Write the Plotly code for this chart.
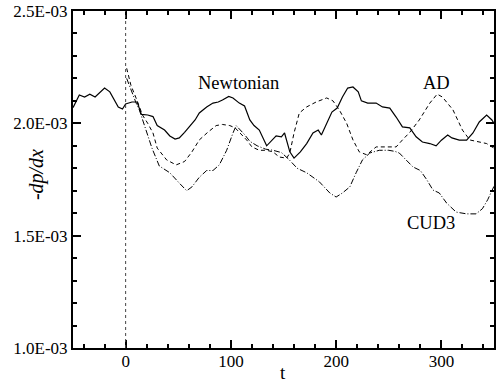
import plotly.graph_objects as go

# ---- data (y in units of 1E-03) ----
t_newt = [-50, -44, -39, -34, -29, -25, -20, -15, -10, -7, -3, 0, 6, 11, 15, 21, 26, 30, 37, 42, 47, 51, 56, 61,
          66, 70, 77, 83, 88, 92, 98, 102, 108, 113, 118, 122, 127, 134, 139, 143, 148, 151, 156, 160, 166, 172,
          178, 183, 186, 191, 196, 201, 206, 211, 216, 221, 224, 230, 238, 244, 251, 257, 263, 270, 276, 282,
          289, 295, 300, 306, 310, 317, 324, 330, 336, 343, 348, 350]
y_newt = [2.07, 2.126, 2.117, 2.13, 2.117, 2.135, 2.157, 2.14, 2.10, 2.073, 2.064, 2.086, 2.095, 2.095, 2.04,
          2.037, 2.03, 1.99, 1.97, 1.944, 1.93, 1.935, 1.96, 1.99, 2.015, 2.046, 2.073, 2.09, 2.095, 2.104, 2.12,
          2.113, 2.09, 2.077, 2.015, 1.99, 1.97, 1.90, 1.925, 1.944, 1.94, 1.957, 1.873, 1.845, 1.873, 1.91,
          1.957, 1.97, 1.948, 2.0, 2.05, 2.068, 2.117, 2.157, 2.162, 2.14, 2.10, 2.09, 2.09, 2.073, 2.068, 2.028,
          1.984, 1.98, 1.94, 1.917, 1.91, 1.90, 1.925, 1.948, 1.935, 1.925, 1.925, 1.957, 2.006, 2.037, 2.015, 2.0]

t_ad = [1, 5, 11, 16, 21, 26, 30, 39, 48, 56, 63, 70, 78, 86, 92, 99, 104, 110, 115, 120, 127, 134, 140, 146,
        153, 156, 160, 165, 172, 181, 191, 197, 203, 210, 216, 222, 229, 238, 248, 257, 263, 270, 279, 289, 296,
        301, 311, 320, 327, 336, 343, 348, 350]
y_ad = [2.245, 2.17, 2.10, 2.037, 2.0, 1.957, 1.89, 1.837, 1.815, 1.83, 1.873, 1.926, 1.96, 1.99, 1.995, 1.99,
        1.98, 1.95, 1.926, 1.895, 1.88, 1.88, 1.873, 1.85, 1.845, 1.868, 1.957, 2.046, 2.073, 2.095, 2.113, 2.10,
        2.06, 2.0, 1.926, 1.873, 1.86, 1.895, 1.895, 1.895, 1.926, 1.96, 2.015, 2.09, 2.13, 2.117, 2.06, 1.97,
        1.926, 1.917, 1.91, 1.895, 1.89]

t_cud = [1, 5, 10, 13, 17, 20, 25, 32, 42, 51, 58, 63, 70, 77, 83, 89, 96, 102, 105, 108, 113, 118, 125, 133,
         140, 148, 155, 163, 172, 178, 184, 194, 200, 206, 213, 219, 225, 232, 241, 250, 256, 260, 267, 273, 280,
         286, 292, 298, 305, 314, 324, 333, 339, 344, 348, 350]
y_cud = [2.20, 2.15, 2.09, 2.06, 2.0, 1.957, 1.89, 1.81, 1.78, 1.734, 1.70, 1.717, 1.76, 1.79, 1.79, 1.815, 1.88,
         1.957, 1.99, 1.975, 1.95, 1.92, 1.90, 1.885, 1.88, 1.87, 1.84, 1.80, 1.78, 1.76, 1.74, 1.69, 1.672, 1.69,
         1.717, 1.78, 1.837, 1.868, 1.88, 1.88, 1.875, 1.868, 1.837, 1.806, 1.79, 1.75, 1.703, 1.69, 1.645, 1.605,
         1.597, 1.597, 1.62, 1.66, 1.70, 1.72]

x_ticks = [0, 100, 200, 300]
x_ticklabels = ["0", "100", "200", "300"]
y_ticks = [1.0e-3, 1.5e-3, 2.0e-3, 2.5e-3]
y_ticklabels = ["1.0E-03", "1.5E-03", "2.0E-03", "2.5E-03"]
ref_t = 0  # vertical reference line

scale = 1e-3
FONT = "Liberation Serif"

fig = go.Figure()
fig.add_trace(go.Scatter(x=t_newt, y=[v * scale for v in y_newt], mode="lines",
                         line=dict(color="black", width=1.2), name="Newtonian"))
fig.add_trace(go.Scatter(x=t_ad, y=[v * scale for v in y_ad], mode="lines",
                         line=dict(color="black", width=1, dash="4px,3px"), name="AD"))
fig.add_trace(go.Scatter(x=t_cud, y=[v * scale for v in y_cud], mode="lines",
                         line=dict(color="black", width=1, dash="6px,2px,1px,2px"), name="CUD3"))

fig.add_shape(type="line", xref="x", yref="paper", x0=ref_t, x1=ref_t, y0=0, y1=1,
              line=dict(color="#444", width=1, dash="dot"))

for txt, tx, ty in [("Newtonian", 107, 2.18e-3), ("AD", 295, 2.178e-3), ("CUD3", 290, 1.557e-3)]:
    fig.add_annotation(x=tx, y=ty, text=txt, showarrow=False, xanchor="center", yanchor="middle",
                       font=dict(family=FONT, size=18.5, color="black"))

fig.add_annotation(xref="paper", yref="paper", x=0, y=0.513, xshift=-37, text="<i>-dp/dx</i>",
                   textangle=-90, showarrow=False, xanchor="center", yanchor="middle",
                   font=dict(family=FONT, size=20, color="black"))
fig.add_annotation(xref="paper", yref="paper", x=0.499, y=0, yshift=-24, text="t",
                   showarrow=False, xanchor="center", yanchor="middle",
                   font=dict(family=FONT, size=19, color="black"))

axis_common = dict(showline=True, linewidth=2, linecolor="black", mirror="allticks",
                   ticks="inside", tickcolor="black", tickwidth=1.5, ticklen=8,
                   showgrid=False, zeroline=False, automargin=False,
                   tickfont=dict(family=FONT, size=17, color="black"))

fig.update_xaxes(range=[-50, 350], tickmode="array", tickvals=x_ticks, ticktext=x_ticklabels,
                 ticklabelstandoff=-3,
                 minor=dict(ticks="inside", ticklen=4, tickcolor="black", tick0=0, dtick=20, showgrid=False),
                 **axis_common)
fig.update_yaxes(range=[1.0e-3, 2.5e-3], tickmode="array", tickvals=y_ticks, ticktext=y_ticklabels,
                 minor=dict(ticks="inside", ticklen=4, tickcolor="black", tick0=1.0e-3, dtick=1e-4, showgrid=False),
                 **axis_common)

fig.update_layout(width=496, height=384, margin=dict(l=73, r=2, t=11, b=36),
                  paper_bgcolor="white", plot_bgcolor="white", showlegend=False,
                  font=dict(family=FONT, color="black"))

fig.write_html("out.html", config={"displayModeBar": False},
               post_script="document.body.style.margin='0';document.body.style.overflow='hidden';")
